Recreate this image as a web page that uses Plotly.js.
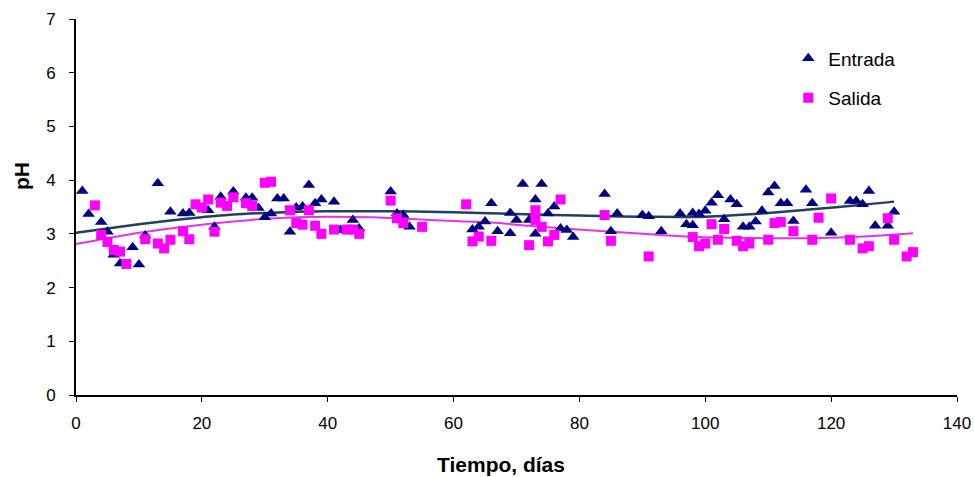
<!DOCTYPE html>
<html>
<head>
<meta charset="utf-8">
<script src="https://cdn.plot.ly/plotly-3.0.1.min.js"></script>
<style>html,body{margin:0;padding:0;background:#fff}#chart{width:974px;height:477px}</style>
</head>
<body>
<div id="chart"></div>
<script>
// Entrada (inlet) pH
const entradaDias = [1,2,4,5,6,7,9,10,11,13,15,17,18,21,22,23,25,27,28,29,30,31,32,33,34,35,36,37,38,39,41,42,43,44,45,50,51,52,53,63,64,65,66,67,69,69,70,71,72,73,73,74,75,76,77,78,79,84,85,86,90,91,93,96,97,98,98,99,100,101,102,103,104,105,106,107,108,109,110,111,112,113,114,116,117,120,123,124,125,126,127,129,130];
const entradaPH = [3.80,3.37,3.22,3.04,2.61,2.45,2.75,2.43,2.97,3.94,3.41,3.38,3.39,3.44,3.13,3.69,3.79,3.67,3.67,3.48,3.31,3.38,3.66,3.66,3.04,3.49,3.51,3.91,3.57,3.64,3.60,3.07,3.07,3.26,3.10,3.79,3.38,3.35,3.13,3.08,3.13,3.23,3.57,3.05,3.39,3.01,3.26,3.93,3.26,3.64,3.00,3.93,3.38,3.51,3.10,3.07,2.94,3.74,3.05,3.38,3.35,3.33,3.05,3.38,3.18,3.39,3.16,3.37,3.43,3.58,3.72,3.27,3.64,3.55,3.13,3.13,3.23,3.43,3.77,3.89,3.57,3.57,3.24,3.82,3.57,3.02,3.61,3.61,3.55,3.80,3.15,3.15,3.41];
// Salida (outlet) pH
const salidaDias = [3,4,5,6,7,8,11,13,14,15,17,18,19,20,21,22,23,24,25,27,28,30,31,34,35,36,37,38,39,41,43,44,45,50,51,52,55,62,63,64,66,72,73,73,74,75,76,77,84,85,91,98,99,100,101,102,103,105,106,107,110,111,112,114,117,118,120,123,125,126,129,130,132,133];
const salidaPH = [3.53,2.98,2.85,2.70,2.67,2.44,2.90,2.82,2.73,2.89,3.05,2.90,3.55,3.49,3.64,3.04,3.58,3.52,3.68,3.57,3.52,3.95,3.97,3.44,3.20,3.17,3.44,3.15,3.00,3.08,3.08,3.08,3.00,3.62,3.29,3.20,3.13,3.55,2.86,2.95,2.87,2.79,3.44,3.26,3.13,2.86,2.98,3.64,3.35,2.87,2.58,2.94,2.77,2.82,3.18,2.89,3.09,2.87,2.77,2.82,2.89,3.20,3.22,3.05,2.89,3.30,3.66,2.89,2.73,2.77,3.29,2.89,2.58,2.66];
// Trend lines
const tendEntradaX = [0,5,10,15,20,25,30,35,40,50,60,70,80,90,100,110,117,125,130];
const tendEntradaY = [3.02,3.10,3.18,3.25,3.31,3.36,3.39,3.41,3.42,3.42,3.40,3.37,3.34,3.32,3.32,3.39,3.46,3.54,3.60];
const tendSalidaX = [0,5,10,15,20,25,30,35,40,47,56,60,66,72,81,90,99,109,117,123,128,133];
const tendSalidaY = [2.81,2.92,3.02,3.10,3.17,3.23,3.28,3.31,3.32,3.31,3.26,3.24,3.21,3.15,3.07,3.00,2.94,2.92,2.92,2.94,2.97,3.01];
const tituloX = 'Tiempo, días';
const tituloY = 'pH';

const FONT = "'Liberation Sans', Arial, sans-serif";

const traces = [
  {x: tendEntradaX, y: tendEntradaY, mode:'lines', line:{color:'#233f5e', width:2.5, shape:'spline'}, showlegend:false, hoverinfo:'skip'},
  {x: tendSalidaX, y: tendSalidaY, mode:'lines', line:{color:'#e633e6', width:2, shape:'spline'}, showlegend:false, hoverinfo:'skip'},
  {x: entradaDias, y: entradaPH, name:'Entrada', mode:'markers', legendgroup:'a',
   marker:{symbol:'triangle-up', size:11, color:'#000080'}},
  {x: salidaDias, y: salidaPH, name:'Salida', mode:'markers', legendgroup:'b',
   marker:{symbol:'square', size:10, color:'#ff00ff'}}
];

const layout = {
  width:974, height:477,
  margin:{l:76, r:17, t:19, b:82},
  paper_bgcolor:'#fff', plot_bgcolor:'#fff',
  font:{family:FONT, size:17, color:'#000'},
  showlegend:true,
  legend:{x:0.8085, y:0.946, xanchor:'left', yanchor:'top', bgcolor:'rgba(0,0,0,0)',
          font:{family:FONT, size:19, color:'#000'}, tracegroupgap:12},
  xaxis:{range:[0,140], dtick:20, tick0:0, ticks:'outside', ticklen:5, tickwidth:1, tickcolor:'#000',
         showline:true, linecolor:'#000', linewidth:2, showgrid:false, zeroline:false,
         ticklabelstandoff:7,
         tickfont:{family:FONT, size:17, color:'#000'}},
  yaxis:{range:[0,7], dtick:1, tick0:0, ticks:'outside', ticklen:5, tickwidth:1, tickcolor:'#000',
         showline:true, linecolor:'#000', linewidth:2, showgrid:false, zeroline:false,
         ticklabelstandoff:10,
         tickfont:{family:FONT, size:17, color:'#000'}},
  annotations:[
    {text:tituloX, xref:'paper', yref:'paper', x:(501-76)/881, y:(395-464)/376, xanchor:'center', yanchor:'middle',
     showarrow:false, font:{family:FONT, size:21, color:'#000', weight:'bold'}},
    {text:tituloY, xref:'paper', yref:'paper', x:(22-76)/881, y:(395-176)/376, xanchor:'center', yanchor:'middle',
     textangle:-90, showarrow:false, font:{family:FONT, size:21, color:'#000', weight:'bold'}}
  ]
};

Plotly.newPlot('chart', traces, layout, {staticPlot:true, displayModeBar:false});
</script>
</body>
</html>
